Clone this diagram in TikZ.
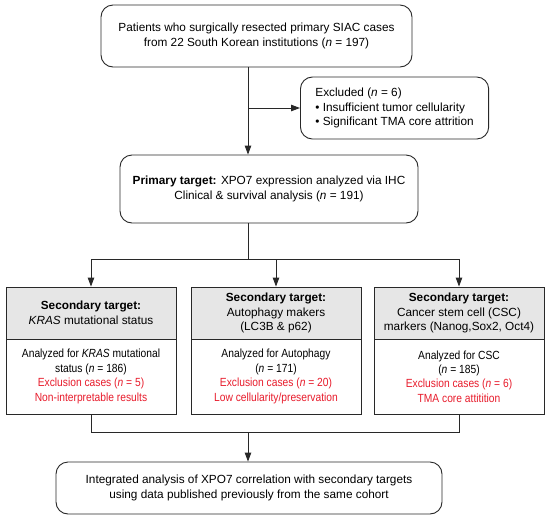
\documentclass[tikz,border=0pt]{standalone}
\usepackage{fontspec}
\setmainfont{Liberation Sans}
\newfontfamily\narrowsans[FakeStretch=0.87]{Liberation Sans}
\usetikzlibrary{arrows.meta,calc}
\definecolor{exred}{RGB}{232,28,44}
\definecolor{hdrgray}{RGB}{230,230,230}
\definecolor{lncol}{RGB}{40,40,40}
\begin{document}
\begin{tikzpicture}[x=1pt,y=-1pt,
  txt/.style={font=\fontsize{11.8}{14.6}\selectfont, align=center, inner sep=0pt},
  ntxt/.style={font=\narrowsans\fontsize{11.8}{14.4}\selectfont, align=center, inner sep=0pt},
  rbox/.style={draw=lncol, line width=0.9pt, rounded corners=12pt, txt},
  hbox/.style={draw=lncol, line width=0.9pt, fill=hdrgray, txt, minimum width=170pt, minimum height=52pt},
  lbox/.style={draw=lncol, line width=0.9pt, fill=white, ntxt, minimum width=170pt, minimum height=75pt},
  conn/.style={draw=lncol, line width=0.9pt},
  arr/.style={conn, -{Triangle[length=9pt,width=6.5pt]}}]
\useasboundingbox (0,0) rectangle (550,520);
\fill[white] (0,0) rectangle (550,520);
\coordinate (ax) at (248,0);

\node[rbox, minimum width=311pt, minimum height=62pt] (top) at (256.5,36)
  {Patients who surgically resected primary SIAC cases\\from 22 South Korean institutions (\textit{n} = 197)};

\node[rbox, anchor=west, minimum width=188pt, minimum height=62pt, align=left, inner xsep=15pt] (excl) at (300,108)
  {Excluded (\textit{n} = 6)\\\textbullet{} Insufficient tumor cellularity\\\textbullet{} Significant TMA core attrition};

\node[rbox, minimum width=298pt, minimum height=68pt] (prim) at (269,189)
  {\textbf{Primary target:} XPO7 expression analyzed via IHC\\Clinical \& survival analysis (\textit{n} = 191)};

\node[hbox] (h1) at (91,313) {\textbf{Secondary target:}\\\textit{KRAS} mutational status};
\node[hbox] (h2) at (276,313) {\textbf{Secondary target:}\\Autophagy makers\\(LC3B \& p62)};
\node[hbox] (h3) at (459,313) {\textbf{Secondary target:}\\Cancer stem cell (CSC)\\markers (Nanog,Sox2, Oct4)};

\node[lbox] (b1) at (91,376.5) {Analyzed for \textit{KRAS} mutational\\status (\textit{n} = 186)\\\textcolor{exred}{Exclusion cases (\textit{n} = 5)}\\\textcolor{exred}{Non-interpretable results}};
\node[lbox] (b2) at (276,376.5) {Analyzed for Autophagy\\(\textit{n} = 171)\\\textcolor{exred}{Exclusion cases (\textit{n} = 20)}\\\textcolor{exred}{Low cellularity/preservation}};
\node[lbox] (b3) at (459,376.5) {Analyzed for CSC\\(\textit{n} = 185)\\\textcolor{exred}{Exclusion cases (\textit{n} = 6)}\\\textcolor{exred}{TMA core attitition}};

\node[rbox, minimum width=386pt, minimum height=52pt] (fin) at (249,488)
  {Integrated analysis of XPO7 correlation with secondary targets\\using data published previously from the same cohort};

% connectors
\draw[arr] (top.south -| ax) -- (prim.north -| ax);
\draw[arr] (ax |- excl.west) -- (excl.west);
\coordinate (split) at (248,259);
\draw[conn] (prim.south -| ax) -- (split);
\draw[conn] (h1.north |- split) -- (h3.north |- split);
\draw[arr] (h1.north |- split) -- (h1.north);
\draw[arr] (h2.north |- split) -- (h2.north);
\draw[arr] (h3.north |- split) -- (h3.north);
\coordinate (join) at (248,432);
\draw[conn] (b1.south) -- (b1.south |- join) -- (b3.south |- join) -- (b3.south);
\draw[arr] (join) -- (fin.north -| join);
\end{tikzpicture}
\end{document}
